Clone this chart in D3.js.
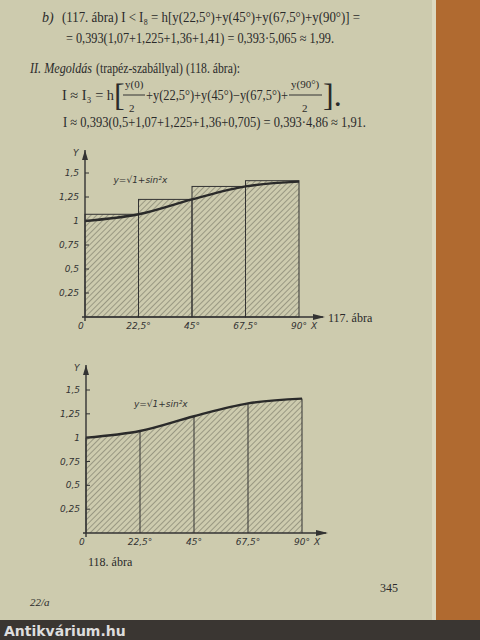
<!DOCTYPE html>
<html><head><meta charset="utf-8">
<script src="https://cdn.jsdelivr.net/npm/d3@7"></script>
<style>
body{margin:0;background:#c9c6a9;}
svg{display:block;}
.t{font-family:"Liberation Serif",serif;fill:#2a2a2a;}
.ax{font-family:"DejaVu Sans",sans-serif;font-style:italic;font-size:9px;fill:#333;}
</style></head><body>
<svg id="page" width="480" height="640"></svg>
<script>
// sample points of y = sqrt(1+sin^2 x)
const angles = [0, 22.5, 45, 67.5, 90];
const yVals = [1, 1.07, 1.225, 1.36, 1.41];
// 117. ábra: rectangles use right endpoint heights
const rectLeft = [0, 22.5, 45, 67.5];
const rectH = [1.07, 1.225, 1.36, 1.42];
const yTicks = [0.25, 0.5, 0.75, 1, 1.25, 1.5];
const yTickLabels = ["0,25", "0,5", "0,75", "1", "1,25", "1,5"];
const xTickLabels = ["22,5°", "45°", "67,5°", "90°"];

const svg = d3.select("#page");
const defs = svg.append("defs");
const pat = defs.append("pattern").attr("id", "hatch").attr("patternUnits", "userSpaceOnUse")
  .attr("width", 4).attr("height", 4).attr("patternTransform", "rotate(45)");
pat.append("line").attr("x1", 0).attr("y1", 0).attr("x2", 0).attr("y2", 4)
  .attr("stroke", "#4a4a40").attr("stroke-width", 0.8);

// paper + book edge
svg.append("rect").attr("width", 480).attr("height", 640).attr("fill", "#cdcbae");
svg.append("rect").attr("x", 436).attr("width", 44).attr("height", 620).attr("fill", "#b06a30");
svg.append("rect").attr("x", 432).attr("width", 4).attr("height", 620).attr("fill", "#dcd9c0");
svg.append("rect").attr("y", 620).attr("width", 480).attr("height", 20).attr("fill", "#3a3632");
svg.append("text").attr("x", 4).attr("y", 636).attr("font-family", "DejaVu Sans").attr("font-weight", "bold")
  .attr("font-size", 14).attr("fill", "#ddd").text("Antikvárium.hu");

// text lines
const txt = (x, y, s, size = 14, style = "normal", len) => {
  const t = svg.append("text").attr("class", "t").attr("x", x).attr("y", y).attr("font-size", size)
    .attr("font-style", style).text(s);
  if (len) t.attr("textLength", len).attr("lengthAdjust", "spacingAndGlyphs");
  return t;
};
txt(42, 22, "b)", 14, "italic");
txt(62, 22, "(117. ábra)   I < I₈ = h[y(22,5°)+y(45°)+y(67,5°)+y(90°)] =", 14, "normal", 298);
txt(66, 43, "= 0,393(1,07+1,225+1,36+1,41) = 0,393·5,065 ≈ 1,99.", 14, "normal", 268);
txt(30, 73, "II. Megoldás", 14, "italic", 62);
txt(96, 73, "(trapéz-szabállyal) (118. ábra):", 14, "normal", 144);
txt(62, 100, "I ≈ I₃ = h", 14, "normal", 52);
txt(114, 106, "[", 32);
txt(125, 88, "y(0)", 11); txt(129, 112, "2", 11);
svg.append("line").attr("x1", 123).attr("x2", 145).attr("y1", 95).attr("y2", 95).attr("stroke", "#333");
txt(146, 100, "+y(22,5°)+y(45°)−y(67,5°)+", 14, "normal", 142);
txt(291, 88, "y(90°)", 11); txt(302, 112, "2", 11);
svg.append("line").attr("x1", 289).attr("x2", 322).attr("y1", 95).attr("y2", 95).attr("stroke", "#333");
txt(323, 106, "].", 32);
txt(63, 127, "I ≈ 0,393(0,5+1,07+1,225+1,36+0,705) = 0,393·4,86 ≈ 1,91.", 14, "normal", 303);
txt(380, 592, "345", 12);
txt(30, 606, "22/a", 11, "italic");

function chart(x0, x1, y0, y15, top, withRects, label, lx, ly, fx, fy) {
  const x = d3.scaleLinear().domain([0, 90]).range([x0, x1]);
  const y = d3.scaleLinear().domain([0, 1.5]).range([y0, y15]);
  const g = svg.append("g");
  const line = d3.line().x((d, i) => x(angles[i])).y(d => y(d)).curve(d3.curveMonotoneX);
  if (withRects) {
    g.selectAll("rect.b").data(rectH).join("rect")
      .attr("x", (d, i) => x(rectLeft[i])).attr("width", x(22.5) - x(0))
      .attr("y", d => y(d)).attr("height", d => y(0) - y(d))
      .attr("fill", "url(#hatch)").attr("stroke", "#333").attr("stroke-width", 1);
  } else {
    const area = d3.area().x((d, i) => x(angles[i])).y0(y(0)).y1(d => y(d)).curve(d3.curveMonotoneX);
    g.append("path").attr("d", area(yVals)).attr("fill", "url(#hatch)").attr("stroke", "none");
    g.selectAll("line.v").data(angles).join("line")
      .attr("x1", d => x(d)).attr("x2", d => x(d)).attr("y1", y(0)).attr("y2", (d, i) => y(yVals[i]))
      .attr("stroke", "#333");
  }
  g.append("path").attr("d", line(yVals)).attr("fill", "none").attr("stroke", "#2a2a2a").attr("stroke-width", 2.4);
  // axes
  g.append("line").attr("x1", x0).attr("x2", x0).attr("y1", y0 + 4).attr("y2", top).attr("stroke", "#333").attr("stroke-width", 1.4);
  g.append("path").attr("d", `M${x0 - 3},${top + 10}L${x0},${top}L${x0 + 3},${top + 10}Z`).attr("fill", "#333");
  g.append("line").attr("x1", x0 - 3).attr("x2", x1 + 24).attr("y1", y0).attr("y2", y0).attr("stroke", "#333").attr("stroke-width", 1.4);
  g.append("path").attr("d", `M${x1 + 14},${y0 - 3}L${x1 + 26},${y0}L${x1 + 14},${y0 + 3}Z`).attr("fill", "#333");
  g.append("text").attr("class", "ax").attr("x", x0 - 12).attr("y", top + 6).text("Y");
  g.append("text").attr("class", "ax").attr("x", x1 + 12).attr("y", y0 + 12).text("X");
  g.selectAll("line.yt").data(yTicks).join("line")
    .attr("x1", x0).attr("x2", x0 + 4).attr("y1", d => y(d)).attr("y2", d => y(d)).attr("stroke", "#333");
  g.selectAll("text.yl").data(yTicks).join("text").attr("class", "ax")
    .attr("x", x0 - 6).attr("y", d => y(d) + 3).attr("text-anchor", "end").text((d, i) => yTickLabels[i]);
  g.selectAll("text.xl").data(angles.slice(1)).join("text").attr("class", "ax")
    .attr("x", d => x(d)).attr("y", y0 + 12).attr("text-anchor", "middle").text((d, i) => xTickLabels[i]);
  g.append("text").attr("class", "ax").attr("x", x0 - 7).attr("y", y0 + 12).text("0");
  g.append("text").attr("class", "ax").attr("x", x(fx)).attr("y", y(fy)).text("y=√1+sin²x");
  g.append("text").attr("class", "t").attr("x", lx).attr("y", ly).attr("font-size", 12).text(label);
}
chart(85, 299, 317, 173, 150, true, "117. ábra", 328, 322, 12, 1.4);
chart(86, 302, 533, 390, 365, false, "118. ábra", 88, 566, 20, 1.32);
</script></body></html>
